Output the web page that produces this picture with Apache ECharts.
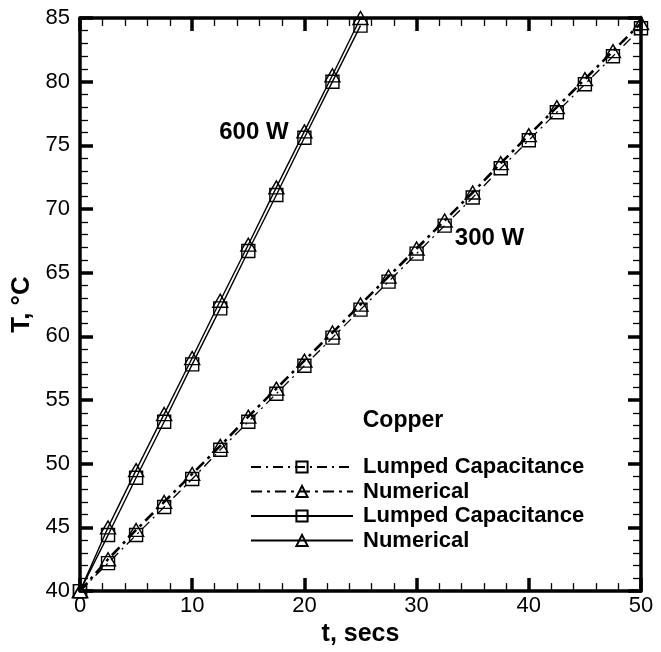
<!DOCTYPE html>
<html>
<head>
<meta charset="utf-8">
<script src="https://cdn.jsdelivr.net/npm/echarts@6/dist/echarts.min.js"></script>
<style>
  html, body { margin: 0; padding: 0; background: #fff; }
  #chart { width: 661px; height: 652px; }
</style>
</head>
<body>
<div id="chart"></div>
<script>
// Time samples (s)
const time600 = [0, 2.5, 5, 7.5, 10, 12.5, 15, 17.5, 20, 22.5, 25];
const time300 = [0, 2.5, 5, 7.5, 10, 12.5, 15, 17.5, 20, 22.5, 25,
                 27.5, 30, 32.5, 35, 37.5, 40, 42.5, 45, 47.5, 50];

// Temperature (°C), 600 W heating
const lumped600 = [40, 44.4, 48.9, 53.3, 57.8, 62.2, 66.7, 71.1, 75.6, 80.0, 84.4];
const numerical600 = [40, 45.0, 49.5, 53.9, 58.3, 62.8, 67.2, 71.7, 76.1, 80.5, 85.0];

// Temperature (°C), 300 W heating
const lumped300 = [40, 42.2, 44.4, 46.6, 48.8, 51.1, 53.3, 55.5, 57.7, 59.9, 62.1,
                   64.3, 66.5, 68.7, 70.9, 73.2, 75.4, 77.6, 79.8, 82.0, 84.2];
const numerical300 = [40, 42.5, 44.8, 47.0, 49.2, 51.4, 53.7, 55.9, 58.1, 60.3, 62.5,
                      64.7, 66.9, 69.1, 71.3, 73.6, 75.8, 78.0, 80.2, 82.4, 84.6];

// Axis ranges and tick steps
const xRange = [0, 50], xStep = 10;
const yRange = [40, 85], yStep = 5;

// Legend labels
const legendLabels = {
  lc300: 'Lumped Capacitance',
  nu300: 'Numerical',
  lc600: 'Lumped Capacitance',
  nu600: 'Numerical'
};

const FONT = '"Liberation Sans", Arial, Helvetica, sans-serif';
const pairs = (xs, ys) => xs.map((x, i) => [x, ys[i]]);

const chart = echarts.init(document.getElementById('chart'));

function axisCommon(showLabels, margin) {
  return {
    axisLine: { show: true, onZero: false, lineStyle: { color: '#000', width: 3.5 } },
    axisTick: { show: true, inside: true, length: 13, lineStyle: { color: '#000', width: 3.5 } },
    minorTick: { show: true, splitNumber: 5, length: 8, lineStyle: { color: '#000', width: 1.3 } },
    splitLine: { show: false },
    axisLabel: {
      show: showLabels, color: '#000', fontFamily: FONT, fontSize: 22, margin: margin
    }
  };
}

const squareStyle = { color: 'transparent', borderColor: '#000', borderWidth: 1.4 };
const triStyle = { color: 'transparent', borderColor: '#000', borderWidth: 1.4 };

chart.setOption({
  animation: false,
  backgroundColor: '#fff',
  grid: { left: 80, right: 20, top: 18, bottom: 57 },
  xAxis: [
    Object.assign({
      type: 'value', min: xRange[0], max: xRange[1], interval: xStep,
      position: 'bottom',
      name: 't, secs', nameLocation: 'middle', nameGap: 23,
      nameTextStyle: { color: '#000', fontFamily: FONT, fontSize: 25, fontWeight: 'bold' }
    }, axisCommon(true, 4)),
    Object.assign({
      type: 'value', min: xRange[0], max: xRange[1], interval: xStep,
      position: 'top'
    }, axisCommon(false, 4))
  ],
  yAxis: [
    Object.assign({
      type: 'value', min: yRange[0], max: yRange[1], interval: yStep,
      position: 'left',
      name: 'T, °C', nameLocation: 'middle', nameGap: 41, nameRotate: 90,
      nameTextStyle: { color: '#000', fontFamily: FONT, fontSize: 26, fontWeight: 'bold' }
    }, axisCommon(true, 10)),
    Object.assign({
      type: 'value', min: yRange[0], max: yRange[1], interval: yStep,
      position: 'right'
    }, axisCommon(false, 10))
  ],
  legend: {
    orient: 'vertical',
    left: 245, top: 451,
    itemWidth: 102, itemHeight: 14, itemGap: 2.5,
    formatter: name => legendLabels[name],
    textStyle: {
      color: '#000', fontFamily: FONT, fontSize: 22, fontWeight: 'bold',
      padding: [0, 0, 0, 5]
    },
    data: ['lc300', 'nu300', 'lc600', 'nu600']
  },
  series: [
    {
      name: 'lc300', type: 'line', data: pairs(time300, lumped300),
      symbol: 'rect', symbolSize: 13, itemStyle: squareStyle,
      lineStyle: { color: '#000', width: 1.3, type: [10, 5, 2, 5] },
      z: 3
    },
    {
      name: 'nu300', type: 'line', data: pairs(time300, numerical300),
      symbol: 'triangle', symbolSize: [15, 13], itemStyle: triStyle,
      lineStyle: { color: '#000', width: 2.6, type: [11, 5, 3, 5] },
      z: 3
    },
    {
      name: 'lc600', type: 'line', data: pairs(time600, lumped600),
      symbol: 'rect', symbolSize: 13, itemStyle: squareStyle,
      lineStyle: { color: '#000', width: 1.4, type: 'solid' },
      z: 3
    },
    {
      name: 'nu600', type: 'line', data: pairs(time600, numerical600),
      symbol: 'triangle', symbolSize: [15, 13], itemStyle: triStyle,
      lineStyle: { color: '#000', width: 1.4, type: 'solid' },
      z: 3
    }
  ]
});

// Annotations placed in data coordinates
const notes = [
  { text: '600 W', at: [15.5, 76.0], align: 'center', size: 24 },
  { text: '300 W', at: [36.5, 67.7], align: 'center', size: 24 },
  { text: 'Copper', at: [25.2, 53.4], align: 'left', size: 23 }
];
chart.setOption({
  graphic: notes.map(n => {
    const p = chart.convertToPixel({ xAxisIndex: 0, yAxisIndex: 0 }, n.at);
    return {
      type: 'text', x: p[0], y: p[1], z: 10,
      style: {
        text: n.text, fill: '#000', font: 'bold ' + n.size + 'px ' + FONT,
        align: n.align, verticalAlign: 'middle'
      }
    };
  })
});
</script>
</body>
</html>
